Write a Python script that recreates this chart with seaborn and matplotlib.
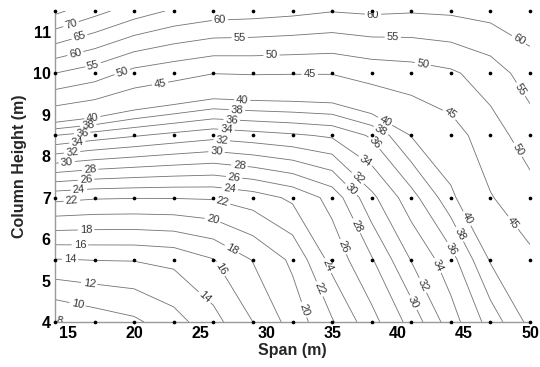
import numpy as np
import pandas as pd
import matplotlib
matplotlib.use("Agg")
import matplotlib.pyplot as plt
import seaborn as sns

# Measurement grid: span (m) along x, column height (m) along y
span = [14, 17, 20, 23, 26, 29, 32, 35, 38, 41, 44, 47, 50]
height = [4.0, 5.5, 7.0, 8.5, 10.0, 11.5]

# Response value at each grid node, one list per column height
z_h4_0 = [7.8, 8.8, 9.6, 11.2, 13.3, 16.0, 18.8, 21.8, 25.3, 28.7, 33.1, 36.8, 40.6]
z_h5_5 = [13.9, 14.05, 14.1, 14.5, 15.9, 18.1, 20.4, 24.7, 27.8, 32.1, 35.2, 40.2, 44.0]
z_h7_0 = [22.6, 22.2, 22.1, 22.1, 22.2, 23.0, 24.4, 26.7, 31.5, 35.2, 39.3, 44.7, 48.1]
z_h8_5 = [36.0, 35.0, 34.2, 33.4, 32.7, 33.2, 33.7, 34.3, 36.3, 40.1, 42.8, 47.8, 52.4]
z_h10_0 = [55.0, 52.4, 48.4, 46.7, 45.1, 45.3, 45.2, 45.2, 46.9, 47.7, 49.2, 52.4, 57.5]
z_h11_5 = [76.2, 71.7, 67.5, 64.3, 62.6, 62.1, 61.3, 60.2, 60.8, 60.4, 60.8, 61.8, 63.3]

contour_levels = [8, 10, 12, 14, 16, 18, 20, 22, 24, 26, 28, 30, 32, 34, 36, 38, 40,
                  45, 50, 55, 60, 65, 70, 75]

x_ticks = [15, 20, 25, 30, 35, 40, 45, 50]
y_ticks = [4, 5, 6, 7, 8, 9, 10, 11]

# Where each level's inline labels sit (data coordinates)
label_spots = {
    8: [(14.38, 4.10)],
    10: [(15.74, 4.48)],
    12: [(16.65, 5.08)],
    14: [(15.14, 5.54), (25.36, 4.60)],
    16: [(15.89, 5.95), (26.65, 5.30)],
    18: [(16.35, 6.27), (27.5, 5.81)],
    20: [(25.97, 6.51), (32.8, 4.29)],
    22: [(15.29, 6.87), (26.7, 6.92), (33.85, 4.77)],
    24: [(15.82, 7.16), (27.26, 7.25), (34.45, 5.33)],
    26: [(16.35, 7.42), (27.6, 7.59), (35.8, 5.81)],
    28: [(16.65, 7.71), (28.0, 7.83), (37.0, 6.34)],
    30: [(14.91, 7.83), (26.27, 8.19), (36.6, 7.25), (41.1, 4.46)],
    32: [(15.29, 8.10), (26.65, 8.43), (37.5, 7.66), (41.9, 4.89)],
    34: [(15.67, 8.39), (27.0, 8.67), (38.0, 8.10), (43.4, 5.42)],
    36: [(16.05, 8.58), (27.4, 8.92), (38.47, 8.39), (44.15, 5.78)],
    38: [(16.5, 8.80), (27.8, 9.16), (38.85, 8.70), (44.8, 6.14)],
    40: [(16.8, 9.01), (28.2, 9.40), (39.2, 8.94), (45.3, 6.51)],
    45: [(21.95, 9.78), (33.3, 9.95), (44.15, 9.16), (48.5, 6.34)],
    50: [(19.0, 10.12), (30.4, 10.48), (41.9, 10.27), (49.0, 8.14)],
    55: [(16.88, 10.22), (28.0, 10.87), (39.6, 10.87), (49.2, 9.59)],
    60: [(15.59, 10.41), (26.5, 11.28), (38.1, 11.40), (49.0, 10.72)],
    65: [(15.89, 10.84)],
    70: [(15.29, 11.11)],
}

z_grid = np.array([z_h4_0, z_h5_5, z_h7_0, z_h8_5, z_h10_0, z_h11_5])
nodes = pd.DataFrame([(sx, hy) for hy in height for sx in span],
                     columns=["span", "height"])

sns.set_style("white")
plt.rcParams["font.family"] = ["Liberation Sans", "DejaVu Sans"]

fig = plt.figure(figsize=(5.4, 3.67), dpi=100)
ax = fig.add_axes([55 / 540, 45 / 367, 475 / 540, 311 / 367])

# One contour set per level so every label lands on its own line
for lev in contour_levels:
    cs = ax.contour(span, height, z_grid, levels=[lev],
                    colors="#737373", linewidths=0.6)
    if lev in label_spots:
        ax.clabel(cs, fmt="%d", fontsize=8, colors="#383838",
                  inline=True, inline_spacing=2, manual=label_spots[lev])

sns.scatterplot(data=nodes, x="span", y="height", color="black", s=7,
                linewidth=0, ax=ax, clip_on=False, zorder=5)

ax.set_xlim(14, 50)
ax.set_ylim(4, 11.5)
ax.set_xticks(x_ticks)
ax.set_yticks(y_ticks)
for side in ("top", "right"):
    ax.spines[side].set_visible(False)
for side in ("left", "bottom"):
    ax.spines[side].set_color("#9a9a9a")
    ax.spines[side].set_linewidth(1.0)
ax.tick_params(direction="in", length=4, width=0.8, color="#9a9a9a",
               labelsize=11.5, pad=3, labelcolor="black")
for lbl in ax.get_xticklabels() + ax.get_yticklabels():
    lbl.set_fontweight("bold")

ax.set_xlabel("Span (m)", fontsize=11.5, fontweight="bold", labelpad=1)
ax.set_ylabel("Column Height (m)", fontsize=11.5, fontweight="bold", labelpad=4)

fig.savefig("out.png", dpi=100)
